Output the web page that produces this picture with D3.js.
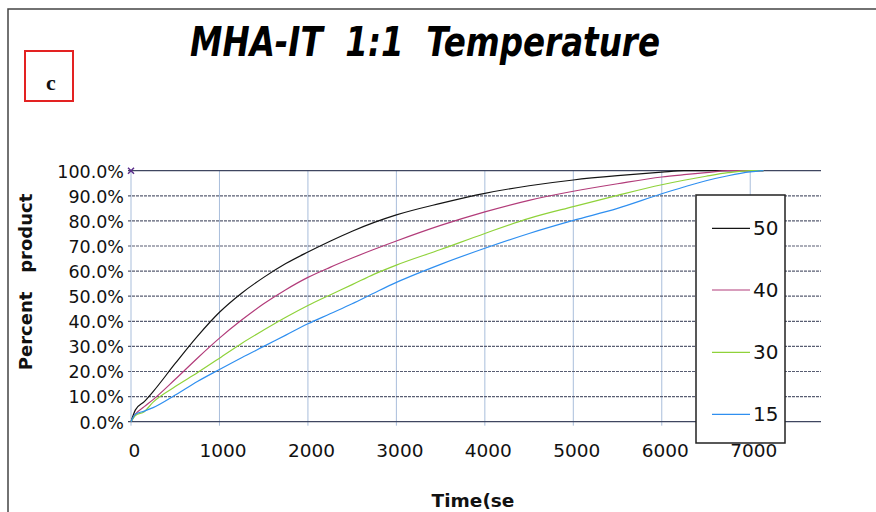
<!DOCTYPE html>
<html>
<head>
<meta charset="utf-8">
<script src="https://cdn.jsdelivr.net/npm/d3@7"></script>
<style>
  html, body { margin: 0; padding: 0; background: #fff; }
  svg { display: block; }
  text { white-space: pre; }
</style>
</head>
<body>
<script>
// Sampling times (seconds)
const times = [0, 50, 150, 250, 500, 750, 1000, 1250, 1500, 1750, 2000, 2250, 2500, 2750,
               3000, 3500, 4000, 4500, 5000, 5500, 6000, 6250, 6500, 6750, 7000, 7150];

// Percent product at each temperature
const t50 = [0, 4.7, 8.0, 12.0, 23.2, 34.0, 43.6, 51.2, 57.5, 63.0, 67.6, 71.9, 75.9, 79.4,
             82.4, 87.0, 91.0, 94.0, 96.3, 98.0, 99.4, 100, 100, 100, 100, 100];
const t40 = [0, 3.0, 6.0, 8.8, 16.9, 25.3, 33.3, 40.5, 47.0, 52.6, 57.5, 61.5, 65.2, 68.7,
             72.0, 78.2, 83.6, 88.2, 91.8, 94.8, 97.5, 98.4, 99.2, 100, 100, 100];
const t30 = [0, 2.5, 4.0, 7.8, 14.0, 19.5, 25.3, 31.2, 36.5, 41.6, 46.3, 50.5, 54.6, 58.8,
             62.4, 68.6, 75.0, 81.0, 85.7, 90.2, 94.4, 96.2, 97.8, 99.2, 100, 100];
const t15 = [0, 3.0, 4.2, 5.6, 10.6, 16.0, 20.8, 25.5, 30.0, 34.5, 39.0, 43.0, 47.0, 51.3,
             55.5, 62.7, 69.1, 75.0, 80.2, 85.0, 90.8, 93.5, 96.0, 98.0, 99.5, 100];

const seriesNames = ["50", "40", "30", "15"];
const seriesValues = [t50, t40, t30, t15];
const seriesColors = ["#141414", "#b23c7a", "#8fd23a", "#2f8ff0"];

const xTicks = [0, 1000, 2000, 3000, 4000, 5000, 6000, 7000];
const yTicks = [0, 10, 20, 30, 40, 50, 60, 70, 80, 90, 100];

const W = 876, H = 512;
const svg = d3.select("body").append("svg").attr("width", W).attr("height", H);
svg.append("rect").attr("width", W).attr("height", H).attr("fill", "#fff");

// Page frame
svg.append("path").attr("d", "M8,512 V9 H876")
  .attr("fill", "none").attr("stroke", "#444").attr("stroke-width", 1.5);

// Panel tag
svg.append("rect").attr("x", 25).attr("y", 51).attr("width", 48).attr("height", 50)
  .attr("fill", "none").attr("stroke", "#e32222").attr("stroke-width", 2);
svg.append("text").attr("x", 51).attr("y", 90).attr("text-anchor", "middle")
  .attr("font-family", "Liberation Serif, serif").attr("font-weight", "bold")
  .attr("font-size", 22).attr("fill", "#111").text("c");

// Title
svg.append("text").attr("x", 190).attr("y", 56)
  .attr("font-family", "Liberation Sans Narrow, DejaVu Sans Condensed, sans-serif")
  .attr("font-weight", "bold").attr("font-style", "italic").attr("font-size", 41)
  .attr("textLength", 470).attr("lengthAdjust", "spacingAndGlyphs")
  .attr("fill", "#000").text("MHA-IT  1:1  Temperature");

const x = d3.scaleLinear().domain([0, 7800]).range([131, 821]);
const y = d3.scaleLinear().domain([0, 100]).range([421.7, 170.7]);

// Vertical grid
const g = svg.append("g");
g.selectAll("line.vg").data(xTicks).join("line")
  .attr("x1", d => x(d)).attr("x2", d => x(d))
  .attr("y1", y(100)).attr("y2", y(0) + 4)
  .attr("stroke", "#a9bedb").attr("stroke-width", 1);

// Horizontal grid
g.selectAll("line.hg").data(yTicks).join("line")
  .attr("x1", x(0) - 3).attr("x2", x(7800))
  .attr("y1", d => y(d)).attr("y2", d => y(d))
  .attr("stroke", d => (d === 0 || d === 100) ? "#3f4660" : "#585d72")
  .attr("stroke-width", 1.2)
  .attr("stroke-dasharray", d => (d === 0 || d === 100) ? null : "3,1");

// Y tick labels
const yAxis = d3.axisLeft(y).tickValues(yTicks).tickSize(0).tickPadding(0)
  .tickFormat(d => d3.format(".1f")(d) + "%");
const ya = svg.append("g").attr("transform", "translate(124,0)").call(yAxis);
ya.select(".domain").remove();
ya.selectAll("text").attr("font-family", "DejaVu Sans, sans-serif")
  .attr("font-size", 17.5).attr("fill", "#111").attr("dy", "0.36em");

// X tick labels
const xAxis = d3.axisBottom(x).tickValues(xTicks).tickSize(0).tickPadding(0)
  .tickFormat(d3.format("d"));
const xa = svg.append("g").attr("transform", "translate(3,0)").call(xAxis);
xa.select(".domain").remove();
xa.selectAll("text").attr("font-family", "DejaVu Sans, sans-serif")
  .attr("font-size", 18.5).attr("fill", "#111").attr("y", 456.7).attr("dy", 0);

// Axis titles
svg.append("text")
  .attr("transform", "translate(32,282) rotate(-90)")
  .attr("text-anchor", "middle")
  .attr("font-family", "DejaVu Sans, sans-serif").attr("font-weight", "bold")
  .attr("font-size", 18).attr("fill", "#111").text("Percent   product");
svg.append("text").attr("x", 473).attr("y", 507).attr("text-anchor", "middle")
  .attr("font-family", "DejaVu Sans, sans-serif").attr("font-weight", "bold")
  .attr("font-size", 18.5).attr("fill", "#111").text("Time(se");

// Curves
const line = d3.line().x(d => x(d[0])).y(d => y(d[1])).curve(d3.curveMonotoneX);
seriesValues.forEach((vals, i) => {
  svg.append("path")
    .datum(times.map((t, k) => [t, vals[k]]))
    .attr("d", line).attr("fill", "none")
    .attr("stroke", seriesColors[i]).attr("stroke-width", 1.2);
});

// Start marker at the top of the axis
const mx = x(0), my = y(100);
svg.append("path")
  .attr("d", `M${mx - 3},${my - 3}L${mx + 3},${my + 3}M${mx - 3},${my + 3}L${mx + 3},${my - 3}`)
  .attr("stroke", "#5a2d8a").attr("stroke-width", 1.5);

// Legend
const lg = svg.append("g");
lg.append("rect").attr("x", 696).attr("y", 195).attr("width", 89).attr("height", 248)
  .attr("fill", "#fff").attr("stroke", "#222").attr("stroke-width", 1.5);
const legendY = [228.3, 290, 352.3, 414.3];
seriesNames.forEach((name, i) => {
  lg.append("line").attr("x1", 712).attr("x2", 750)
    .attr("y1", legendY[i]).attr("y2", legendY[i])
    .attr("stroke", seriesColors[i]).attr("stroke-width", 1.2);
  lg.append("text").attr("x", 753).attr("y", legendY[i] + 6.5)
    .attr("font-family", "DejaVu Sans, sans-serif").attr("font-size", 20)
    .attr("fill", "#111").text(name);
});
</script>
</body>
</html>
